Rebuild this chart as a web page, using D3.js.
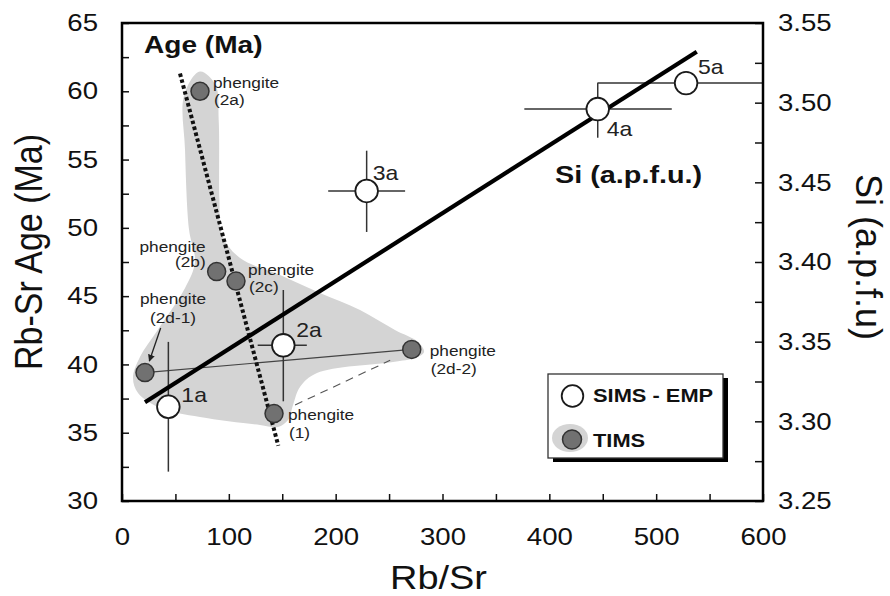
<!DOCTYPE html>
<html>
<head>
<meta charset="utf-8">
<script src="https://cdn.jsdelivr.net/npm/d3@7"></script>
<style>
  html, body { margin: 0; padding: 0; background: #fff; }
  svg { display: block; font-family: "Liberation Sans", Arial, Helvetica, sans-serif; }
</style>
</head>
<body>
<svg id="chart" width="890" height="596"></svg>
<script>
// ---- axis ticks ----
const rbsrTicks  = d3.range(0, 601, 50);
const rbsrLabels = [0, 100, 200, 300, 400, 500, 600];
const ageTicks   = d3.range(30, 65.01, 2.5);
const ageLabels  = [30, 35, 40, 45, 50, 55, 60, 65];
const siTicks    = d3.range(0, 13).map(i => 3.25 + i * 0.025);
const siLabels   = [3.25, 3.30, 3.35, 3.40, 3.45, 3.50, 3.55];

// ---- SIMS - EMP spots (Rb/Sr vs age, with error bars) ----
const simsNames    = ["1a", "2a", "3a", "4a", "5a"];
const simsRbSr     = [43.4, 151, 229, 445.3, 528];
const simsAge      = [36.9, 41.4, 52.7, 58.7, 60.6];
const simsRbSrLow  = [null, 127, 193, 376.6, 445];
const simsRbSrHigh = [null, 173, 265, 514.6, 640];
const simsAgeLow   = [32.15, 37.3, 49.7, 56.6, null];
const simsAgeHigh  = [41.65, 45.45, 55.65, 60.6, null];

// ---- TIMS phengite fractions ----
const timsNames = ["(2a)", "(2b)", "(2c)", "(2d-1)", "(2d-2)", "(1)"];
const timsRbSr  = [73, 88.6, 106.7, 21.5, 271.2, 142.3];
const timsAge   = [60.0, 46.8, 46.1, 39.4, 41.1, 36.4];

// ---- trends ----
const ageTrendRbSr = [54.3, 146.3];      // dotted, age axis
const ageTrendAge  = [61.3, 34.05];
const siTrendRbSr  = [21.5, 538];        // solid, Si axis
const siTrendSi    = [3.312, 3.532];

// tie line (2d-1)–(2d-2) and dashed link (1)–(2d-2)
const tieRbSr  = [21.5, 271.2];
const tieAge   = [39.4, 41.1];
const linkRbSr = [162, 251];
const linkAge  = [37.03, 40.3];

// arrow pointing at (2d-1)
const arrowRbSr = [36.2, 25.6];
const arrowAge  = [42.67, 40.25];

// ---- outline of the TIMS field ----
const fieldRbSr = [73, 87.5, 90.5, 91.2, 93.6, 110.5, 147.9, 185.3, 222.8, 255.5, 277.1, 282.7,
                   274.3, 253.7, 182.5, 166.6, 160.1, 155.4, 146.0, 129.2, 73.0, 35.6, 15.0, 10.3,
                   16.8, 32.8, 59.0, 68.3, 62.8, 59.0, 58.2];
const fieldAge  = [61.45, 60.46, 57.9, 52.04, 49.48, 47.79, 46.55, 45.23, 43.99, 42.52, 41.64, 40.91,
                   40.47, 40.18, 39.37, 38.35, 37.03, 35.93, 35.42, 35.56, 36.15, 36.81, 37.91, 39.01,
                   40.54, 42.45, 45.6, 47.5, 49.84, 55.7, 59.73];

// ---- layout ----
const W = 890, H = 596;
const m = { left: 122, top: 23, right: 127, bottom: 95 };
const iw = W - m.left - m.right, ih = H - m.top - m.bottom;
const SX = 1.15;                       // horizontal widening of lettering
const FIELD = "#d4d4d4", TIMS_FILL = "#717171", INK = "#111";

const x    = d3.scaleLinear([0, 600], [m.left, m.left + iw]);
const yAge = d3.scaleLinear([30, 65], [m.top + ih, m.top]);
const ySi  = d3.scaleLinear([3.25, 3.55], [m.top + ih, m.top]);

const svg = d3.select("#chart");

function label(parent, px, py, str, o = {}) {
  const rot = o.rotate ? ` rotate(${o.rotate})` : "";
  return parent.append("text")
    .attr("transform", `translate(${px},${py}) scale(${o.sx || SX},1)${rot}`)
    .attr("text-anchor", o.anchor || "start")
    .style("font-size", (o.size || 16) + "px")
    .style("font-weight", o.weight || "normal")
    .attr("fill", o.fill || INK)
    .text(str);
}

svg.append("defs").append("clipPath").attr("id", "plot")
  .append("rect").attr("x", m.left).attr("y", m.top).attr("width", iw).attr("height", ih);
const marker = svg.select("defs").append("marker")
  .attr("id", "head").attr("viewBox", "0 0 10 10").attr("refX", 9).attr("refY", 5)
  .attr("markerWidth", 7).attr("markerHeight", 7).attr("orient", "auto-start-reverse")
  .attr("markerUnits", "userSpaceOnUse");
marker.append("path").attr("d", "M0,0 L10,5 L0,10 z").attr("fill", "#222");

const plot = svg.append("g").attr("clip-path", "url(#plot)");

// TIMS field
const fieldPts = fieldRbSr.map((v, i) => [x(v), yAge(fieldAge[i])]);
plot.append("path")
  .attr("d", d3.line().curve(d3.curveCatmullRomClosed.alpha(0.5))(fieldPts))
  .attr("fill", FIELD);

// tie line and dashed link
const seg = d3.line();
plot.append("path")
  .attr("d", seg(tieRbSr.map((v, i) => [x(v), yAge(tieAge[i])])))
  .attr("stroke", "#444").attr("stroke-width", 1.1).attr("fill", "none");
plot.append("path")
  .attr("d", seg(linkRbSr.map((v, i) => [x(v), yAge(linkAge[i])])))
  .attr("stroke", "#555").attr("stroke-width", 1.1).attr("stroke-dasharray", "8,6").attr("fill", "none");

// error bars
simsNames.forEach((n, i) => {
  if (simsRbSrLow[i] != null) {
    plot.append("line")
      .attr("x1", x(simsRbSrLow[i])).attr("x2", x(simsRbSrHigh[i]))
      .attr("y1", yAge(simsAge[i])).attr("y2", yAge(simsAge[i]))
      .attr("stroke", "#333").attr("stroke-width", 1.5);
  }
  if (simsAgeLow[i] != null) {
    plot.append("line")
      .attr("x1", x(simsRbSr[i])).attr("x2", x(simsRbSr[i]))
      .attr("y1", yAge(simsAgeLow[i])).attr("y2", yAge(simsAgeHigh[i]))
      .attr("stroke", "#333").attr("stroke-width", 1.5);
  }
});

// age trend (dotted)
plot.append("path")
  .attr("d", seg(ageTrendRbSr.map((v, i) => [x(v), yAge(ageTrendAge[i])])))
  .attr("stroke", "#111").attr("stroke-width", 4).attr("stroke-dasharray", "3.5,2.6").attr("fill", "none");

// Si trend (solid)
plot.append("path")
  .attr("d", seg(siTrendRbSr.map((v, i) => [x(v), ySi(siTrendSi[i])])))
  .attr("stroke", "#000").attr("stroke-width", 4.2).attr("fill", "none");

// arrow to (2d-1)
plot.append("path")
  .attr("d", seg(arrowRbSr.map((v, i) => [x(v), yAge(arrowAge[i])])))
  .attr("stroke", "#222").attr("stroke-width", 1.3).attr("fill", "none")
  .attr("marker-end", "url(#head)");

// TIMS points
timsNames.forEach((n, i) => {
  plot.append("circle")
    .attr("cx", x(timsRbSr[i])).attr("cy", yAge(timsAge[i])).attr("r", 9)
    .attr("fill", TIMS_FILL).attr("stroke", "#333").attr("stroke-width", 1.5);
});

// SIMS points
simsNames.forEach((n, i) => {
  plot.append("circle")
    .attr("cx", x(simsRbSr[i])).attr("cy", yAge(simsAge[i])).attr("r", 11.3)
    .attr("fill", "#fff").attr("stroke", "#1a1a1a").attr("stroke-width", 1.8);
});

// labels for SIMS spots
const simsLabelPos = [[13, -5], [13, -8], [6, -11], [9, 27], [12, -9]];
simsNames.forEach((n, i) => {
  label(svg, x(simsRbSr[i]) + simsLabelPos[i][0], yAge(simsAge[i]) + simsLabelPos[i][1], n,
        { size: 20, fill: "#222" });
});

// labels for TIMS fractions
const timsLabelPos = [
  { dx: 13,  dy: -3,    gap: 17,  anchor: "start"  },
  { dx: -11, dy: -20,   gap: 15,  anchor: "end"    },
  { dx: 12,  dy: -6,    gap: 17,  anchor: "start"  },
  { dx: 28,  dy: -68.7, gap: 19,  anchor: "middle" },
  { dx: 18,  dy: 6.5,   gap: 18,  anchor: "start"  },
  { dx: 14,  dy: 6,     gap: 18,  anchor: "start"  }
];
timsNames.forEach((n, i) => {
  const p = timsLabelPos[i];
  const px = x(timsRbSr[i]) + p.dx, py = yAge(timsAge[i]) + p.dy;
  label(svg, px, py, "phengite", { size: 15, anchor: p.anchor, fill: "#222" });
  label(svg, p.anchor === "start" ? px + 1 : px, py + p.gap, n, { size: 15, anchor: p.anchor, fill: "#222" });
});

// axes: tick marks (inward)
const gTickL = svg.append("g").attr("transform", `translate(${m.left},0)`)
  .call(d3.axisLeft(yAge).tickValues(ageTicks).tickSize(-7).tickFormat(""));
const gTickB = svg.append("g").attr("transform", `translate(0,${m.top + ih})`)
  .call(d3.axisBottom(x).tickValues(rbsrTicks).tickSize(-7).tickFormat(""));
const gTickR = svg.append("g").attr("transform", `translate(${m.left + iw},0)`)
  .call(d3.axisRight(ySi).tickValues(siTicks).tickSize(-8).tickFormat(""));
[gTickL, gTickB, gTickR].forEach(g => {
  g.select(".domain").remove();
  g.selectAll(".tick line").attr("stroke", "#111").attr("stroke-width", 1.5);
});

// axes: tick labels
const gLabL = svg.append("g").attr("transform", `translate(${m.left},0)`)
  .call(d3.axisLeft(yAge).tickValues(ageLabels).tickSize(0).tickPadding(24 / SX).tickFormat(d3.format("d")));
const gLabB = svg.append("g").attr("transform", `translate(0,${m.top + ih})`)
  .call(d3.axisBottom(x).tickValues(rbsrLabels).tickSize(0).tickPadding(27).tickFormat(d3.format("d")));
const gLabR = svg.append("g").attr("transform", `translate(${m.left + iw},0)`)
  .call(d3.axisRight(ySi).tickValues(siLabels).tickSize(0).tickPadding(15 / SX).tickFormat(d3.format(".2f")));
[gLabL, gLabB, gLabR].forEach(g => {
  g.select(".domain").remove();
  g.attr("font-family", null).attr("font-size", null);
  g.selectAll(".tick text")
    .attr("transform", `scale(${SX},1)`)
    .style("font-size", "24px").attr("fill", INK);
});

// frame
svg.append("rect")
  .attr("x", m.left).attr("y", m.top).attr("width", iw).attr("height", ih)
  .attr("fill", "none").attr("stroke", "#000").attr("stroke-width", 2.5);

// in-plot headings
label(svg, 144, 53, "Age (Ma)", { size: 24, weight: "bold", sx: 1.17 });
label(svg, 555, 183, "Si (a.p.f.u.)", { size: 24, weight: "bold", sx: 1.2 });

// axis titles
label(svg, m.left + iw / 2 - 4, 589, "Rb/Sr", { size: 33, anchor: "middle" });
label(svg, 42, 252, "Rb-Sr Age (Ma)", { size: 34, anchor: "middle", rotate: -90 });
label(svg, 856, 257, "Si (a.p.f.u)", { size: 36, anchor: "middle", rotate: 90, sx: 1.05 });

// legend
const lg = svg.append("g");
lg.append("rect").attr("x", 553).attr("y", 378).attr("width", 175).attr("height", 84).attr("fill", "#000");
lg.append("rect").attr("x", 548).attr("y", 374).attr("width", 175).attr("height", 84)
  .attr("fill", "#fff").attr("stroke", "#333").attr("stroke-width", 1.3);
lg.append("circle").attr("cx", 572.5).attr("cy", 396).attr("r", 10.8)
  .attr("fill", "#fff").attr("stroke", "#1a1a1a").attr("stroke-width", 1.8);
label(lg, 593, 402, "SIMS - EMP", { size: 19, weight: "bold" });
lg.append("ellipse").attr("cx", 570).attr("cy", 438).attr("rx", 18).attr("ry", 14).attr("fill", FIELD);
lg.append("circle").attr("cx", 572).attr("cy", 439.5).attr("r", 9.5)
  .attr("fill", TIMS_FILL).attr("stroke", "#333").attr("stroke-width", 1.5);
label(lg, 593, 447, "TIMS", { size: 19, weight: "bold" });
</script>
</body>
</html>
